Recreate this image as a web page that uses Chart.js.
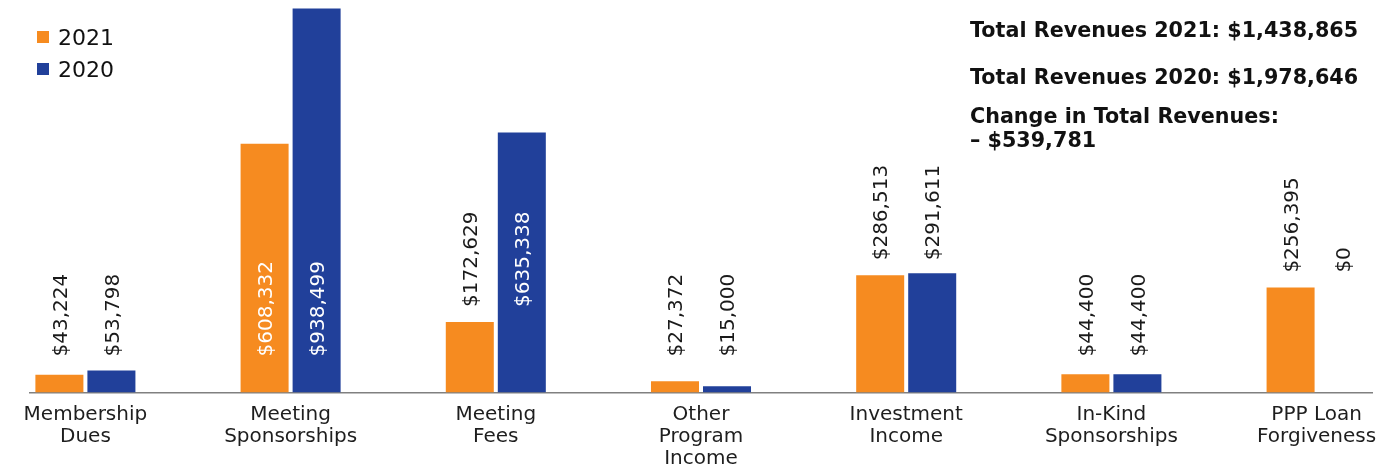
<!DOCTYPE html>
<html>
<head>
<meta charset="utf-8">
<script src="https://cdn.jsdelivr.net/npm/chart.js@4"></script>
<style>
  body { margin: 0; background: #fff; }
  #wrap { position: relative; width: 1397px; height: 469px; font-family: "DejaVu Sans", sans-serif; color: #111; }
  #legend { position: absolute; left: 37px; top: 26px; }
  .item { position: relative; height: 32px; font-size: 22px; line-height: 24px; }
  .item span.box { position: absolute; left: 0; top: 5px; width: 12px; height: 12px; }
  .item span.txt { position: absolute; left: 21px; top: 0; white-space: nowrap; }
  .total { position: absolute; left: 970px; font-weight: bold; font-size: 20.7px; line-height: 24px; white-space: nowrap; }
</style>
</head>
<body>
<div id="wrap">
  <canvas id="revChart" width="1397" height="469"></canvas>
  <div id="legend"></div>
  <div class="total" style="top:18px">Total Revenues 2021: $1,438,865</div>
  <div class="total" style="top:65px">Total Revenues 2020: $1,978,646</div>
  <div class="total" style="top:104px">Change in Total Revenues:<br>– $539,781</div>
</div>
<script>
// data
const categories = [
  ['Membership', 'Dues'],
  ['Meeting', 'Sponsorships'],
  ['Meeting', 'Fees'],
  ['Other', 'Program', 'Income'],
  ['Investment', 'Income'],
  ['In-Kind', 'Sponsorships'],
  ['PPP Loan', 'Forgiveness']
];
const seriesNames = ['2021', '2020'];
const values2021 = [43224, 608332, 172629, 27372, 286513, 44400, 256395];
const values2020 = [53798, 938499, 635338, 15000, 291611, 44400, 0];
const seriesColors = ['#F68B20', '#21409A'];

Chart.defaults.font.family = '"DejaVu Sans", sans-serif';

function money(v) {
  return '$' + v.toLocaleString('en-US');
}

// rotated value labels, both bars of a group share the 2021 bar's anchor
const valueLabels = {
  id: 'valueLabels',
  afterDatasetsDraw(chart) {
    const ctx = chart.ctx;
    const metas = [chart.getDatasetMeta(0), chart.getDatasetMeta(1)];
    ctx.save();
    ctx.font = '20px "DejaVu Sans"';
    ctx.textAlign = 'left';
    ctx.textBaseline = 'middle';
    metas[0].data.forEach(function(lead, i) {
      const floor = lead.base - 36;
      const texts = metas.map((m, k) => money(chart.data.datasets[k].data[i].y));
      const w = Math.max.apply(null, texts.map(t => ctx.measureText(t).width));
      let bottom;
      if (floor - w > lead.y + 10) bottom = floor;
      else bottom = Math.min(lead.y - 15, floor);
      metas.forEach(function(m, k) {
        const bar = m.data[i];
        ctx.fillStyle = bar.y < bottom ? '#ffffff' : '#1a1a1a';
        ctx.save();
        ctx.translate(bar.x + 2, bottom);
        ctx.rotate(-Math.PI / 2);
        ctx.fillText(texts[k], 0, 0);
        ctx.restore();
      });
    });
    ctx.restore();
  }
};

var ctx = document.getElementById('revChart').getContext('2d');
var chart = new Chart(ctx, {
  type: 'bar',
  data: {
    datasets: [
      { label: seriesNames[0], data: values2021.map((v, i) => ({ x: i, y: v })), backgroundColor: seriesColors[0] },
      { label: seriesNames[1], data: values2020.map((v, i) => ({ x: i, y: v })), backgroundColor: seriesColors[1] }
    ]
  },
  options: {
    responsive: false,
    animation: false,
    categoryPercentage: 0.507,
    barPercentage: 0.923,
    layout: { padding: { left: 30, right: 25, top: 8, bottom: -11.5 } },
    plugins: {
      legend: { display: false },
      tooltip: { enabled: false }
    },
    scales: {
      x: {
        type: 'linear',
        offset: false,
        min: -0.27,
        max: 6.27,
        bounds: 'data',
        afterBuildTicks: function(scale) {
          // one tick per category
          scale.ticks = categories.map((c, i) => ({ value: i }));
        },
        grid: { display: false, drawTicks: false, offset: false },
        border: { display: true, color: '#808080', width: 1.5 },
        ticks: {
          autoSkip: false,
          maxRotation: 0,
          minRotation: 0,
          padding: 11,
          color: '#1e1e1e',
          font: { size: 20, lineHeight: 1.1 },
          callback: function(value) {
            return Number.isInteger(value) ? categories[value] : '';
          }
        }
      },
      y: {
        display: false,
        min: 0,
        max: 940000
      }
    }
  },
  plugins: [valueLabels]
});

// legend from the chart's datasets
var legend = document.getElementById('legend');
chart.data.datasets.forEach(function(ds) {
  var item = document.createElement('div');
  item.className = 'item';
  item.innerHTML = '<span class="box" style="background:' + ds.backgroundColor + '"></span><span class="txt">' + ds.label + '</span>';
  legend.appendChild(item);
});
</script>
</body>
</html>
